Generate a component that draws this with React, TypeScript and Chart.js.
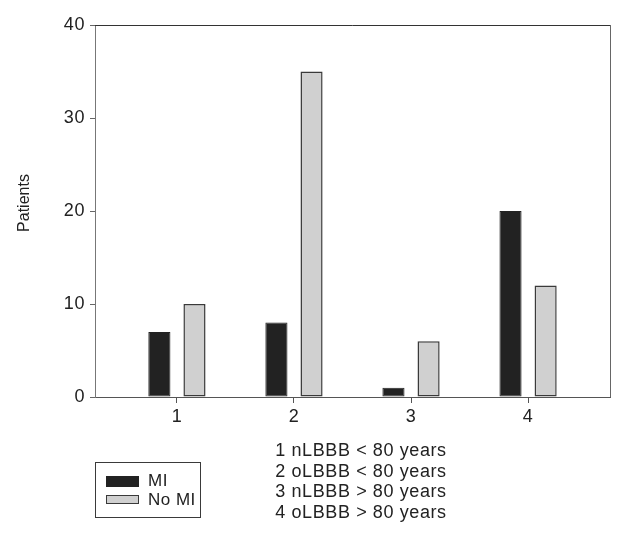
import React, { useEffect, useRef } from "react";
import { Chart, registerables } from "chart.js";

Chart.register(...registerables);

const categories = [1, 2, 3, 4];
const miValues = [7, 8, 1, 20];
const noMiValues = [10, 35, 6, 12];
const yTicks = [0, 10, 20, 30, 40];
const seriesNames = ["MI", "No MI"];
const captionLines = [
  "1 nLBBB < 80 years",
  "2 oLBBB < 80 years",
  "3 nLBBB > 80 years",
  "4 oLBBB > 80 years",
];
const yTitle = "Patients";

const FONT = "'Liberation Sans', Arial, sans-serif";
const TEXT = "#222222";
const MI_COLOR = "#222222";
const NOMI_COLOR = "#d0d0d0";
const EDGE = "#3a3a3a";

const extrasPlugin = {
  id: "extras",
  beforeDraw(chart: any) {
    try {
      (chart.ctx as any).letterSpacing = "0.6px";
    } catch (e) {}
  },
  afterDatasetsDraw(chart: any) {
    const { ctx, chartArea } = chart;
    ctx.save();
    ctx.lineWidth = 1;
    ctx.strokeStyle = "#333333";
    ctx.beginPath();
    ctx.moveTo(chartArea.left, chartArea.top + 0.5);
    ctx.lineTo(chartArea.right + 0.5, chartArea.top + 0.5);
    ctx.stroke();
    ctx.strokeStyle = "#666666";
    ctx.beginPath();
    ctx.moveTo(chartArea.right + 0.5, chartArea.top);
    ctx.lineTo(chartArea.right + 0.5, chartArea.bottom);
    ctx.stroke();
    ctx.restore();
  },
  afterDraw(chart: any) {
    const { ctx } = chart;
    ctx.save();
    try {
      (ctx as any).letterSpacing = "0px";
    } catch (e) {}
    // y axis title
    ctx.save();
    ctx.translate(25, 203);
    ctx.rotate(-Math.PI / 2);
    ctx.font = `16px ${FONT}`;
    ctx.fillStyle = TEXT;
    ctx.textAlign = "center";
    ctx.textBaseline = "middle";
    ctx.fillText(yTitle, 0, 0);
    ctx.restore();

    ctx.font = `18px ${FONT}`;
    ctx.fillStyle = TEXT;
    ctx.textAlign = "center";
    ctx.textBaseline = "middle";
    try {
      (ctx as any).letterSpacing = "0.6px";
    } catch (e) {}
    captionLines.forEach((line, i) => {
      ctx.fillText(line, 361, 451 + i * 20.7);
    });

    // legend box
    ctx.font = `17px ${FONT}`;
    try {
      (ctx as any).letterSpacing = "0.5px";
    } catch (e) {}
    ctx.lineWidth = 1;
    ctx.strokeStyle = EDGE;
    ctx.strokeRect(95.5, 462.5, 105, 55);
    ctx.fillStyle = MI_COLOR;
    ctx.fillRect(106, 476, 33, 11);
    ctx.fillStyle = NOMI_COLOR;
    ctx.fillRect(106, 495, 33, 9);
    ctx.strokeRect(106.5, 495.5, 32, 8);
    ctx.fillStyle = TEXT;
    ctx.textAlign = "left";
    ctx.fillText(seriesNames[0], 148, 481);
    ctx.fillText(seriesNames[1], 148, 500);
    ctx.restore();
  },
};

export default function App() {
  const ref = useRef<HTMLCanvasElement | null>(null);

  useEffect(() => {
    if (!ref.current) return;
    const chart = new Chart(ref.current, {
      type: "bar",
      data: {
        datasets: [
          {
            label: seriesNames[0],
            data: categories.map((c, i) => ({ x: c, y: miValues[i] })),
            backgroundColor: MI_COLOR,
            borderColor: MI_COLOR,
            borderWidth: 1,
            borderSkipped: false,
            categoryPercentage: 0.6,
            barPercentage: 0.63,
          },
          {
            label: seriesNames[1],
            data: categories.map((c, i) => ({ x: c, y: noMiValues[i] })),
            backgroundColor: NOMI_COLOR,
            borderColor: EDGE,
            borderWidth: 1.5,
            borderSkipped: false,
            categoryPercentage: 0.6,
            barPercentage: 0.63,
          },
        ],
      },
      options: {
        animation: false,
        responsive: false,
        maintainAspectRatio: false,
        layout: { padding: { left: 0, top: 25, right: 18, bottom: 105 } },
        plugins: {
          legend: { display: false },
          tooltip: { enabled: false },
        },
        scales: {
          x: {
            type: "linear",
            min: 0.3,
            max: 4.7,
            offset: false,
            afterBuildTicks: (scale: any) => {
              scale.ticks = categories.map((v) => ({ value: v }));
            },
            afterFit: (scale: any) => {
              scale.height = 40;
            },
            grid: {
              offset: false,
              drawOnChartArea: false,
              drawTicks: true,
              tickLength: 6,
              tickColor: "#555555",
            },
            border: { color: "#555555", width: 1 },
            ticks: {
              color: TEXT,
              font: { family: FONT, size: 18 },
              padding: 3,
              maxRotation: 0,
              callback: (v: any) => String(v),
            },
          },
          y: {
            min: 0,
            max: 40,
            afterBuildTicks: (scale: any) => {
              scale.ticks = yTicks.map((v) => ({ value: v }));
            },
            afterFit: (scale: any) => {
              scale.width = 95;
            },
            grid: {
              drawOnChartArea: false,
              drawTicks: true,
              tickLength: 5,
              tickColor: "#666666",
            },
            border: { color: "#777777", width: 1 },
            ticks: {
              color: TEXT,
              font: { family: FONT, size: 18 },
              padding: 5,
            },
            title: { display: false },
          },
        },
      },
      plugins: [extrasPlugin],
    });
    return () => chart.destroy();
  }, []);

  return (
    <div style={{ position: "fixed", left: 0, top: 0, width: 628, height: 542, background: "#fff" }}>
      <canvas ref={ref} width={628} height={542} style={{ width: 628, height: 542, display: "block" }} />
    </div>
  );
}
